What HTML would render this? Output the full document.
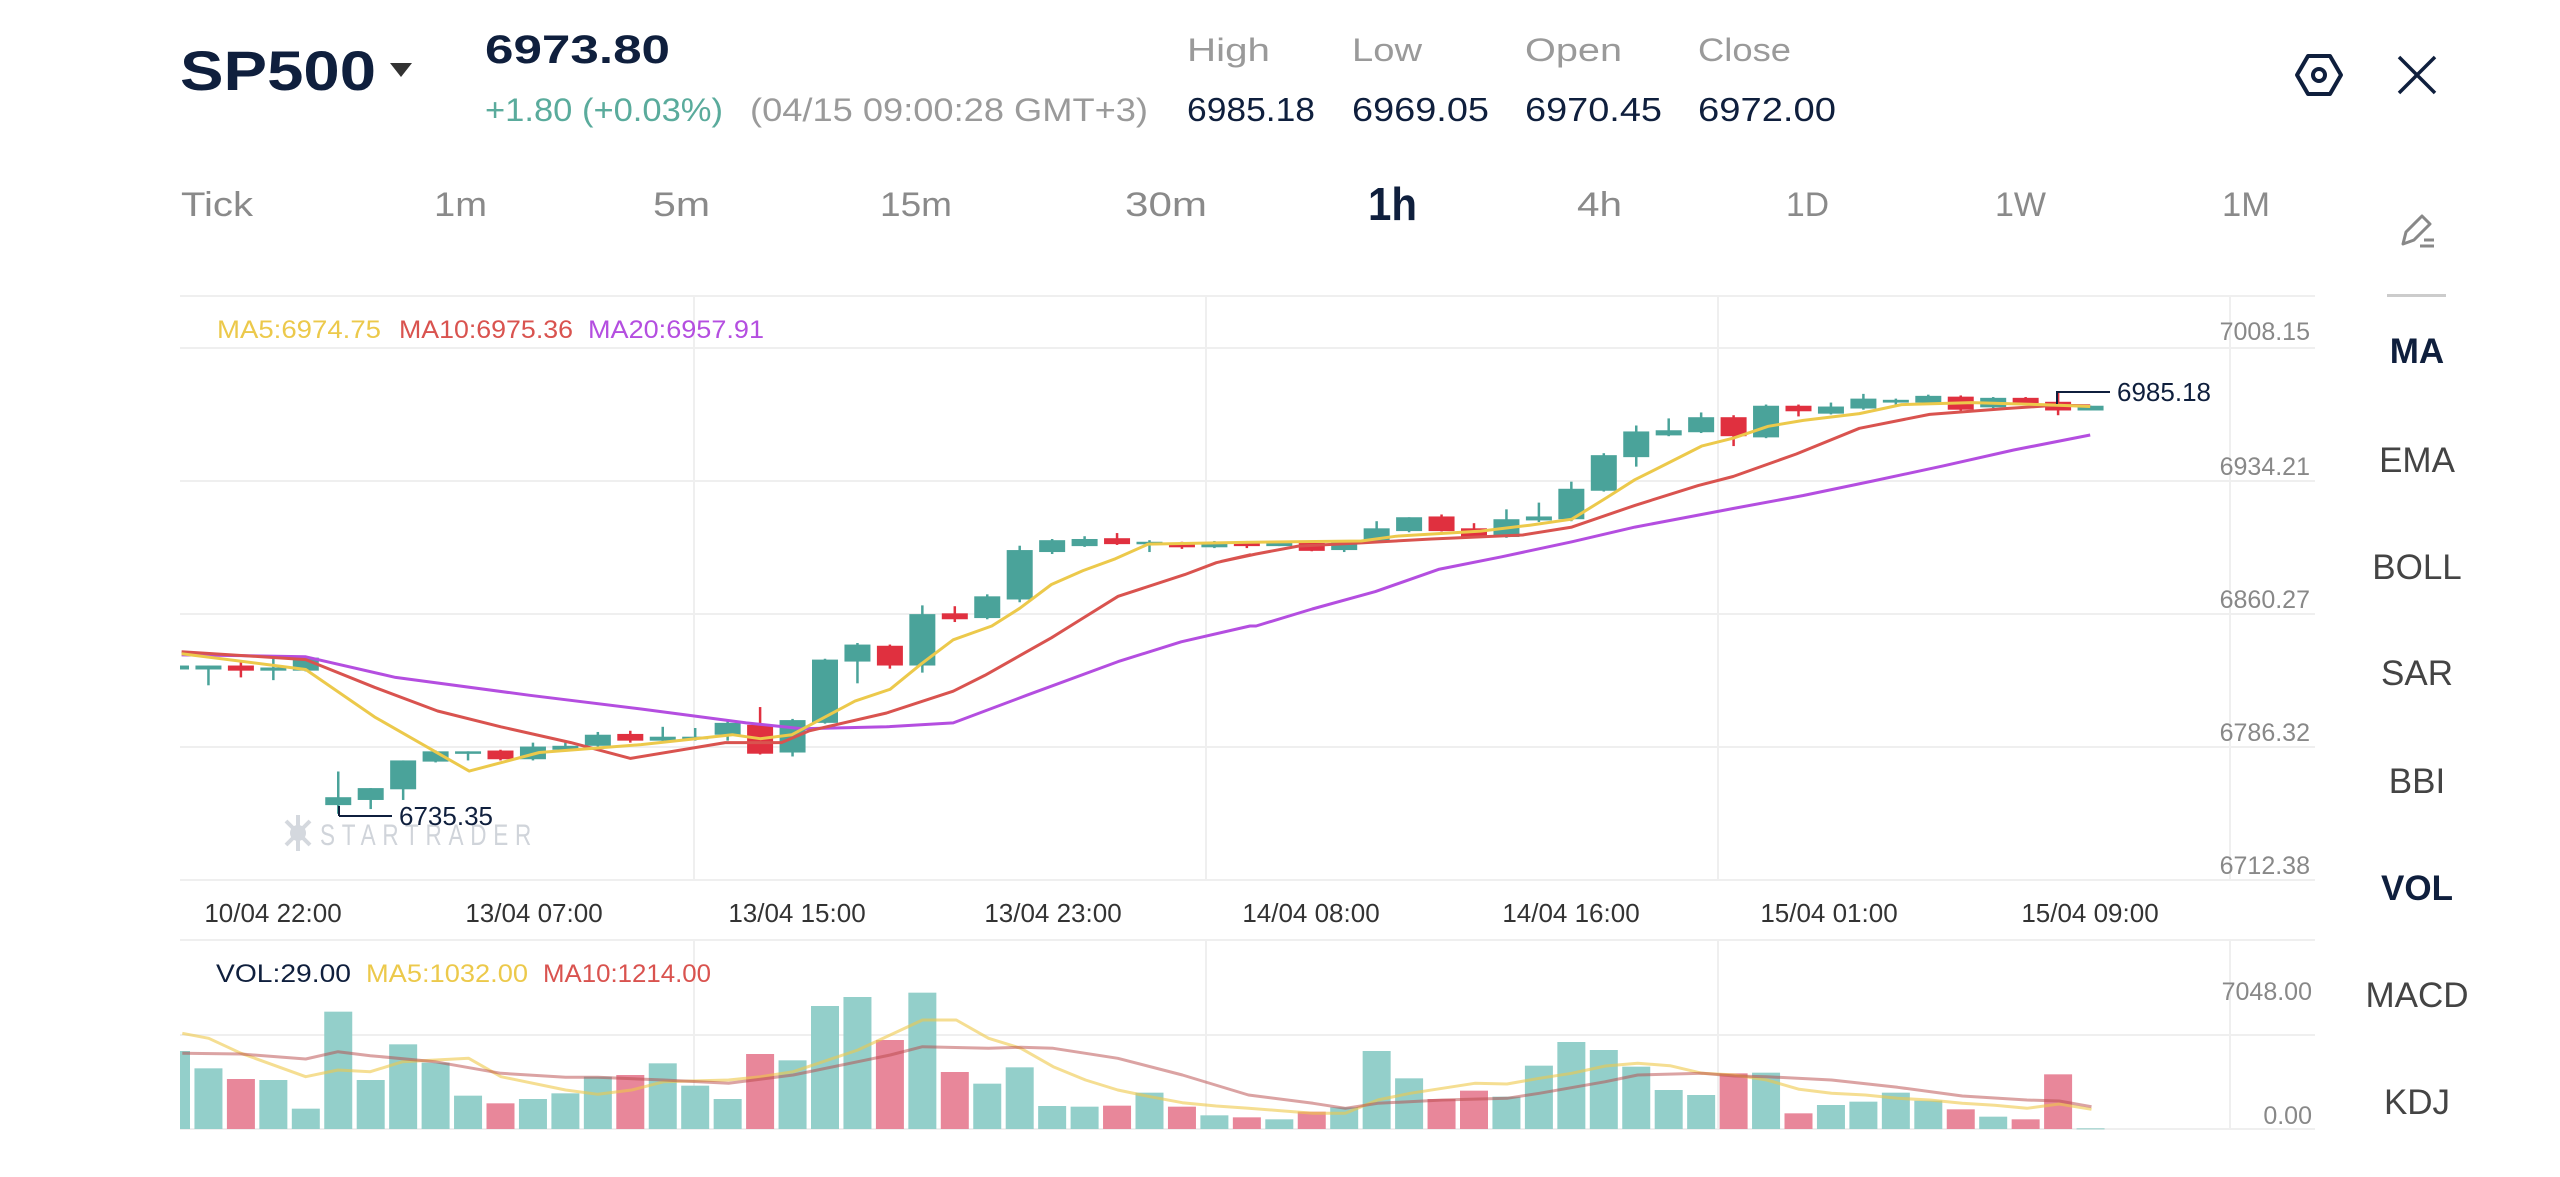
<!DOCTYPE html>
<html><head><meta charset="utf-8"><style>
html,body{margin:0;padding:0;background:#fff;width:2560px;height:1177px;overflow:hidden}
svg{display:block}
text{font-family:"Liberation Sans",sans-serif}
</style></head><body>
<svg id="s" width="2560" height="1177" viewBox="0 0 2560 1177" xmlns="http://www.w3.org/2000/svg">
<rect width="2560" height="1177" fill="#fff"/>
<!-- header -->
<text x="180" y="90" font-size="56" font-weight="bold" fill="#0f1f3d" textLength="196" lengthAdjust="spacingAndGlyphs">SP500</text>
<path d="M390 63 L412 63 L401 77 Z" fill="#333"/>
<text x="485" y="63" font-size="40" font-weight="bold" fill="#0f1f3d" textLength="185" lengthAdjust="spacingAndGlyphs">6973.80</text>
<text x="485" y="121" font-size="32" fill="#5aab9c" textLength="238" lengthAdjust="spacingAndGlyphs">+1.80 (+0.03%)</text>
<text x="750" y="121" font-size="32" fill="#9a9a9a" textLength="398" lengthAdjust="spacingAndGlyphs">(04/15 09:00:28 GMT+3)</text>
<g font-size="32" fill="#9a9a9a">
<text x="1187" y="61" textLength="83" lengthAdjust="spacingAndGlyphs">High</text>
<text x="1352" y="61" textLength="70" lengthAdjust="spacingAndGlyphs">Low</text>
<text x="1525" y="61" textLength="97" lengthAdjust="spacingAndGlyphs">Open</text>
<text x="1698" y="61" textLength="93" lengthAdjust="spacingAndGlyphs">Close</text>
</g>
<g font-size="33" fill="#0f1f3d">
<text x="1187" y="121" textLength="128" lengthAdjust="spacingAndGlyphs">6985.18</text>
<text x="1352" y="121" textLength="137" lengthAdjust="spacingAndGlyphs">6969.05</text>
<text x="1525" y="121" textLength="137" lengthAdjust="spacingAndGlyphs">6970.45</text>
<text x="1698" y="121" textLength="138" lengthAdjust="spacingAndGlyphs">6972.00</text>
</g>
<!-- icons -->
<polygon points="2308,56 2330,56 2341,75 2330,94 2308,94 2297,75" fill="none" stroke="#0f1f3d" stroke-width="4" stroke-linejoin="round"/>
<circle cx="2319" cy="75" r="6" fill="none" stroke="#0f1f3d" stroke-width="4"/>
<path d="M2399 57 L2435 93 M2435 57 L2399 93" stroke="#0f1f3d" stroke-width="3.5"/>
<!-- timeframes -->
<g font-size="34" fill="#8a8a8a">
<text x="181" y="216" textLength="72" lengthAdjust="spacingAndGlyphs">Tick</text>
<text x="434" y="216" textLength="53" lengthAdjust="spacingAndGlyphs">1m</text>
<text x="653" y="216" textLength="57" lengthAdjust="spacingAndGlyphs">5m</text>
<text x="880" y="216" textLength="72" lengthAdjust="spacingAndGlyphs">15m</text>
<text x="1125" y="216" textLength="82" lengthAdjust="spacingAndGlyphs">30m</text>
<text x="1577" y="216" textLength="45" lengthAdjust="spacingAndGlyphs">4h</text>
<text x="1786" y="216" textLength="43" lengthAdjust="spacingAndGlyphs">1D</text>
<text x="1995" y="216" textLength="51" lengthAdjust="spacingAndGlyphs">1W</text>
<text x="2222" y="216" textLength="48" lengthAdjust="spacingAndGlyphs">1M</text>
</g>
<text x="1368" y="220" font-size="46" font-weight="bold" fill="#0f1f3d" textLength="49" lengthAdjust="spacingAndGlyphs">1h</text>
<!-- pencil -->
<g stroke="#888" stroke-width="3" fill="none" stroke-linejoin="round">
<path d="M2403 244 L2406 232 L2422 216 L2430 224 L2414 240 Z"/>
<path d="M2420 246 L2434 246 M2424 240 L2434 240"/>
</g>
<rect x="2387" y="294" width="59" height="3" fill="#ccc"/>
<!-- sidebar -->
<g font-size="35" fill="#444" text-anchor="middle">
<text x="2417" y="363" font-weight="bold" fill="#0f1f3d">MA</text>
<text x="2417" y="472">EMA</text>
<text x="2417" y="579">BOLL</text>
<text x="2417" y="685">SAR</text>
<text x="2417" y="793">BBI</text>
<text x="2417" y="900" font-weight="bold" fill="#0f1f3d">VOL</text>
<text x="2417" y="1007">MACD</text>
<text x="2417" y="1114">KDJ</text>
</g>
<!-- grid -->
<g stroke="#efefef" stroke-width="2">
<line x1="180" y1="296" x2="2315" y2="296"/>
<line x1="180" y1="348" x2="2315" y2="348"/>
<line x1="180" y1="481" x2="2315" y2="481"/>
<line x1="180" y1="614" x2="2315" y2="614"/>
<line x1="180" y1="747" x2="2315" y2="747"/>
<line x1="180" y1="880" x2="2315" y2="880"/>
<line x1="180" y1="940" x2="2315" y2="940"/>
<line x1="180" y1="1035" x2="2315" y2="1035"/>
<line x1="180" y1="1129" x2="2315" y2="1129"/>
<line x1="694" y1="296" x2="694" y2="880"/><line x1="1206" y1="296" x2="1206" y2="880"/>
<line x1="1718" y1="296" x2="1718" y2="880"/><line x1="2230" y1="296" x2="2230" y2="880"/>
<line x1="694" y1="940" x2="694" y2="1129"/><line x1="1206" y1="940" x2="1206" y2="1129"/>
<line x1="1718" y1="940" x2="1718" y2="1129"/><line x1="2230" y1="940" x2="2230" y2="1129"/>
</g>
<!-- watermark -->
<g fill="#d4d8de">
<circle cx="298" cy="833" r="8"/><path d="M286 821 L310 845 M310 821 L286 845 M298 815 L298 851" stroke="#d4d8de" stroke-width="4"/>
</g>
<text x="320" y="845" font-size="30" fill="#d0d4da" letter-spacing="9" textLength="218" lengthAdjust="spacingAndGlyphs">STARTRADER</text>
<!-- legend -->
<g font-size="25">
<text x="217" y="338" fill="#ecc94b" textLength="164" lengthAdjust="spacingAndGlyphs">MA5:6974.75</text>
<text x="399" y="338" fill="#d9534f" textLength="174" lengthAdjust="spacingAndGlyphs">MA10:6975.36</text>
<text x="588" y="338" fill="#b44ee0" textLength="176" lengthAdjust="spacingAndGlyphs">MA20:6957.91</text>
</g>
<g font-size="25" fill="#888" text-anchor="end">
<text x="2310" y="340">7008.15</text>
<text x="2310" y="475">6934.21</text>
<text x="2310" y="608">6860.27</text>
<text x="2310" y="741">6786.32</text>
<text x="2310" y="874">6712.38</text>
<text x="2312" y="1000">7048.00</text>
<text x="2312" y="1124">0.00</text>
</g>
<g font-size="26" fill="#333" text-anchor="middle">
<text x="273" y="922">10/04 22:00</text>
<text x="534" y="922">13/04 07:00</text>
<text x="797" y="922">13/04 15:00</text>
<text x="1053" y="922">13/04 23:00</text>
<text x="1311" y="922">14/04 08:00</text>
<text x="1571" y="922">14/04 16:00</text>
<text x="1829" y="922">15/04 01:00</text>
<text x="2090" y="922">15/04 09:00</text>
</g>
<g font-size="25">
<text x="216" y="982" fill="#0f1f3d" textLength="135" lengthAdjust="spacingAndGlyphs">VOL:29.00</text>
<text x="366" y="982" fill="#ecc94b" textLength="162" lengthAdjust="spacingAndGlyphs">MA5:1032.00</text>
<text x="543" y="982" fill="#d9534f" textLength="168" lengthAdjust="spacingAndGlyphs">MA10:1214.00</text>
</g>
<defs><clipPath id="cp"><rect x="180" y="290" width="2140" height="900"/></clipPath></defs>
<g id="plot" clip-path="url(#cp)"></g>
<!-- annotations -->
<line x1="339" y1="816" x2="392" y2="816" stroke="#0f1f3d" stroke-width="2"/>
<line x1="339" y1="806" x2="339" y2="816" stroke="#0f1f3d" stroke-width="2"/>
<text x="399" y="825" font-size="26" fill="#0f1f3d">6735.35</text>
<path d="M2057 404 L2057 392 L2110 392" stroke="#0f1f3d" stroke-width="2" fill="none"/>
<text x="2117" y="401" font-size="26" fill="#0f1f3d">6985.18</text>
</svg>
<script>
(function(){
var NS="http://www.w3.org/2000/svg",g=document.getElementById("plot");
function el(t,a){var e=document.createElementNS(NS,t);for(var k in a)e.setAttribute(k,a[k]);g.appendChild(e);return e;}
var Y=function(z){return 280+z/2.529;};
function cx(i){return 176+32.45*i;}
// [color, bodyTop, bodyBot, wickHi, wickLo] in zoom y units
var C=[["t",975,985,975,985],["t",975,985,975,1025],["r",975,988,965,1005],["t",980,988,955,1012],["t",955,988,950,990],
["t",1308,1328,1243,1350],["t",1285,1315,1285,1338],["t",1215,1288,1215,1315],["t",1192,1218,1190,1220],["t",1192,1198,1192,1215],
["r",1190,1212,1188,1215],["t",1180,1212,1170,1215],["t",1178,1188,1170,1190],["t",1150,1178,1143,1180],["r",1148,1165,1140,1170],
["t",1155,1165,1130,1170],["t",1155,1160,1133,1165],["t",1120,1150,1115,1165],["r",1125,1198,1080,1200],["t",1113,1195,1110,1205],
["t",960,1120,958,1122],["t",922,965,918,1020],["r",925,975,922,983],["t",845,975,823,993],["r",843,858,825,865],
["t",800,855,795,858],["t",683,808,672,815],["t",658,688,655,693],["t",655,673,648,675],["r",653,668,640,670],
["t",662,668,658,688],["r",668,676,662,680],["t",665,676,660,678],["r",663,673,660,678],["t",663,673,663,673],
["r",665,685,662,686],["t",660,683,658,688],["t",628,663,610,665],["t",600,635,600,638],["r",598,635,593,636],
["r",628,650,615,652],["t",605,650,580,652],["t",598,608,563,612],["t",528,605,510,610],["t",443,533,438,535],
["t",383,448,368,472],["t",380,393,350,395],["t",347,385,335,387],["r",347,395,342,420],["t",318,398,315,400],
["r",318,332,315,345],["t",320,338,310,340],["t",300,325,288,328],["t",303,310,300,320],["t",293,310,290,312],
["r",295,328,292,330],["t",298,322,296,324],["r",298,312,296,316],["r",308,330,283,342],["t",318,330,318,330]];
var V=[513,565,597,600,686,395,600,493,548,647,670,657,640,590,585,550,617,657,522,541,378,351,480,338,576,611,562,678,680,677,638,680,706,712,718,695,682,513,595,657,632,650,557,486,510,560,630,645,580,578,700,675,665,638,662,688,710,718,583,745];
// volume bars
for(var i=0;i<V.length;i++){var top=880+V[i]/3,x=cx(i);
 el("rect",{x:x-14,y:top,width:28,height:Math.max(1,1129-top),fill:C[i][0]=="r"?"#e8879a":"#93cfca"});}
function line(pts,col,w,op){el("polyline",{points:pts.map(function(p){return p[0].toFixed(1)+","+p[1].toFixed(1)}).join(" "),fill:"none",stroke:col,"stroke-width":w,"stroke-opacity":op||1,"stroke-linejoin":"round"});}
function z4(a){var r=[];for(var k=0;k<a.length;k+=2)r.push([150+a[k]*1.4686,880+a[k+1]/3]);return r;}
line(z4([22,460,40,475,62,520,106,590,128,570,150,575,172,545,217,535,239,590,283,630,305,643,328,630,350,605,394,600,416,590,438,575,482,510,504,465,526,420,549,420,571,475,593,505,615,560,637,600,659,630,681,650,703,668,726,678,748,685,770,692,792,700,814,700,836,660,858,640,880,625,902,610,924,612,946,595,968,580,991,558,1013,550,1035,557,1057,580,1079,585,1101,600,1123,628,1145,640,1168,645,1190,655,1212,660,1234,670,1256,676,1278,685,1300,672,1322,688]),"#efc84a",3,0.6);
line(z4([22,520,62,522,106,537,128,515,150,527,194,545,239,580,283,592,305,592,350,600,394,610,438,585,482,545,504,525,526,500,571,505,593,502,615,505,659,535,703,585,748,645,792,670,814,685,836,670,880,660,924,655,946,640,991,605,1013,585,1057,580,1079,588,1101,590,1145,600,1190,622,1234,648,1278,660,1300,663,1322,680]),"#b84848",3,0.5);
// candles
for(var i=0;i<C.length;i++){var c=C[i],x=cx(i),col=c[0]=="r"?"#e0303f":"#4aa39a";
 el("line",{x1:x,x2:x,y1:Y(c[3]),y2:Y(c[4]),stroke:col,"stroke-width":2.5});
 var t=Y(c[1]),b=Y(c[2]);el("rect",{x:x-13,y:t,width:26,height:Math.max(2.5,b-t),fill:col});}
function z2(a,off){var r=[];for(var k=0;k<a.length;k+=2)r.push([off+a[k]/1.4255,Y(a[k+1])]);return r;}
var m20=z2([45,948,130,950,222,953,350,1005,540,1050,700,1085,850,1120,930,1135,1050,1130,1145,1120,1250,1050,1380,965,1470,915,1568,875],150).concat(z2([80,875,160,832,250,788,340,732,430,700,530,662,620,625,760,578,860,545,960,508,1060,470,1160,430,1269,392],1200));
var m10=z2([45,940,222,960,320,1030,410,1090,500,1130,600,1170,685,1210,820,1170,900,1170,940,1140,1050,1095,1145,1040,1190,1000,1240,950,1285,905,1330,855,1380,800,1475,745,1520,715,1568,695],150).concat(z2([30,712,80,693,140,673,230,665,330,655,460,645,530,625,620,570,710,520,760,497,850,440,940,375,1040,340,1150,325,1220,317,1269,318],1200));
var m5=z2([45,945,222,985,320,1105,455,1242,555,1195,700,1175,830,1150,870,1160,915,1150,1005,1065,1055,1035,1100,970,1145,910,1200,875,1240,830,1285,770,1330,735,1376,705,1423,668,1568,663],150).concat(z2([230,660,280,648,400,635,470,620,530,605,580,550,620,505,665,465,715,420,760,400,810,370,860,355,940,338,1000,315,1100,310,1200,315,1269,320],1200));
line(m20,"#b44ee0",3);line(m10,"#d9534f",3);line(m5,"#ecc94b",3);
})();
</script>
</body></html>
